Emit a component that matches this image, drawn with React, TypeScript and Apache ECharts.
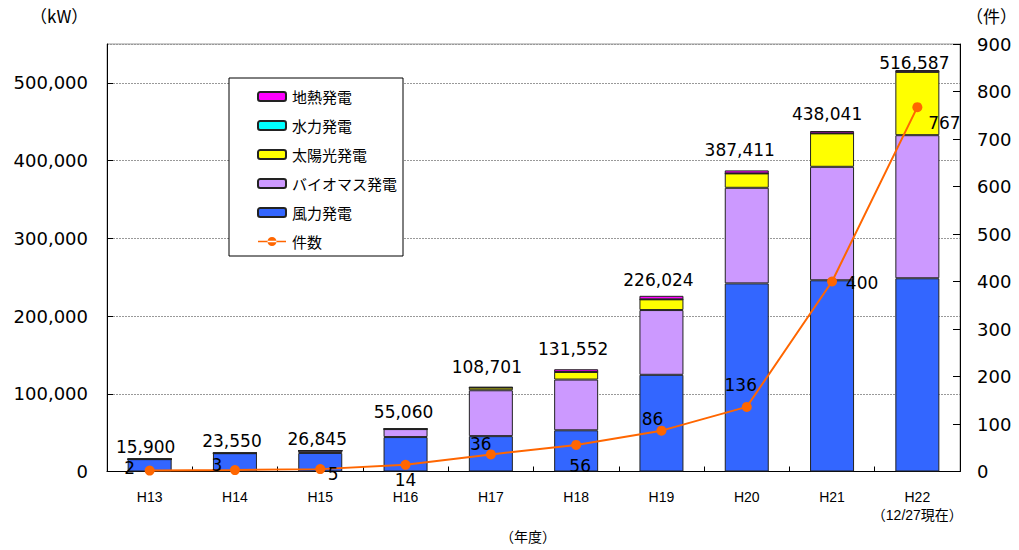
import React, { useEffect, useRef } from "react";
import * as echarts from "echarts";

const categories = ["H13", "H14", "H15", "H16", "H17", "H18", "H19", "H20", "H21", "H22"];
const wind = [15900, 23550, 23845, 44300, 45500, 53000, 124400, 242000, 246000, 248600];
const biomass = [0, 0, 3000, 10260, 59000, 65300, 83300, 123000, 146000, 184100];
const solar = [0, 0, 0, 0, 3500, 9800, 13800, 18500, 43000, 81500];
const hydro = [0, 0, 0, 0, 0, 0, 0, 0, 0, 0];
const geothermal = [0, 0, 0, 500, 701, 3452, 4524, 3911, 3041, 2387];
const counts = [2, 3, 5, 14, 36, 56, 86, 136, 400, 767];
const leftTicks = [0, 100000, 200000, 300000, 400000, 500000];

// label placement styles (pixel offsets), not data
const totalLabelOffsets: [number, number][] = [
  [-4, 0], [-3, 0], [-3, 0], [-2, -5], [-4, -8], [-3, -9], [-3, -4], [-7, -9], [-5, -6], [-3, 5],
];
const countLabelOffsets: [number, number][] = [
  [-20, -3], [-18, -5], [13, 5], [0, 15], [-10, -10], [4, 21], [-9, -12], [-6, -22], [30, 1], [27, 16],
];

const NUM_FONT = "'DejaVu Sans', 'Noto Sans CJK JP', sans-serif";
const CJK_FONT = "'Noto Sans CJK JP', 'DejaVu Sans', sans-serif";
const LINE_ICON = "path://M0,4.2L28,4.2L28,5.8L0,5.8Z M9.5,5A4.5,4.5 0 1,0 18.5,5A4.5,4.5 0 1,0 9.5,5Z";

export default function App() {
  const ref = useRef<HTMLDivElement>(null);
  useEffect(() => {
    const chart = echarts.init(ref.current!, undefined, { renderer: "svg" });
    const totals = categories.map(
      (_, i) => wind[i] + biomass[i] + solar[i] + hydro[i] + geothermal[i]
    );
    const border = { borderColor: "#222", borderWidth: 1 };
    const barBase = { type: "bar", stack: "total", barWidth: 44, yAxisIndex: 0 };
    chart.setOption({
      animation: false,
      backgroundColor: "#fff",
      textStyle: { fontFamily: NUM_FONT, color: "#000" },
      grid: {
        left: 107,
        right: 59,
        top: 44,
        bottom: 78.5,
        show: true,
        borderColor: "#999",
        borderWidth: 1,
        outerBoundsMode: "none",
      },
      legend: {
        orient: "vertical",
        left: 229,
        top: 78,
        data: [
          "地熱発電",
          "水力発電",
          "太陽光発電",
          "バイオマス発電",
          "風力発電",
          { name: "件数", icon: LINE_ICON, itemStyle: { color: "#FF6600", borderWidth: 0 } },
        ],
        backgroundColor: "#fff",
        borderColor: "#000",
        borderWidth: 1,
        padding: [11, 6, 7, 28],
        itemWidth: 28,
        itemHeight: 9,
        itemGap: 14,
        textStyle: { fontFamily: CJK_FONT, fontSize: 15, color: "#000", padding: [0, 0, 0, 1] },
      },
      xAxis: {
        type: "category",
        data: categories,
        axisLine: { lineStyle: { color: "#000", width: 1 } },
        axisTick: { show: true, inside: true, length: 5, lineStyle: { color: "#000" } },
        axisLabel: {
          interval: 0,
          fontFamily: "'Liberation Sans', 'Noto Sans CJK JP', sans-serif",
          fontSize: 14,
          color: "#000",
          margin: 16,
          lineHeight: 18,
          formatter: (v: string) => (v === "H22" ? "H22\n（12/27現在）" : v),
        },
      },
      yAxis: [
        {
          type: "value",
          min: leftTicks[0],
          max: 550000,
          interval: 100000,
          axisLine: { show: true, lineStyle: { color: "#000" } },
          axisTick: { show: true, inside: true, length: 6, lineStyle: { color: "#000" } },
          axisLabel: {
            fontFamily: NUM_FONT,
            fontSize: 18,
            color: "#000",
            margin: 19,
            showMaxLabel: false,
            formatter: (v: number) =>
              leftTicks.includes(v) ? v.toLocaleString("en-US") : "",
          },
          splitLine: { show: true, lineStyle: { color: "#999", type: [2, 1] } },
        },
        {
          type: "value",
          min: 0,
          max: 900,
          interval: 100,
          position: "right",
          axisLine: { show: true, lineStyle: { color: "#000" } },
          axisTick: { show: true, inside: true, length: 7, lineStyle: { color: "#000" } },
          axisLabel: { fontFamily: NUM_FONT, fontSize: 18, color: "#000", margin: 17 },
          splitLine: { show: false },
        },
      ],
      series: [
        { ...barBase, name: "風力発電", data: wind, itemStyle: { color: "#3366FF", ...border } },
        { ...barBase, name: "バイオマス発電", data: biomass, itemStyle: { color: "#CC99FF", ...border } },
        { ...barBase, name: "太陽光発電", data: solar, itemStyle: { color: "#FFFF00", ...border } },
        { ...barBase, name: "水力発電", data: hydro, itemStyle: { color: "#00FFFF", ...border } },
        {
          ...barBase,
          name: "地熱発電",
          data: geothermal.map((v, i) => ({
            value: v,
            label: { offset: totalLabelOffsets[i] },
          })),
          itemStyle: { color: "#FF00FF", ...border },
          label: {
            show: true,
            position: "top",
            distance: 3,
            fontFamily: NUM_FONT,
            fontSize: 17,
            color: "#000",
            formatter: (p: any) => totals[p.dataIndex].toLocaleString("en-US"),
          },
        },
        {
          type: "line",
          name: "件数",
          yAxisIndex: 1,
          z: 10,
          data: counts.map((v, i) => ({
            value: v,
            label: { offset: countLabelOffsets[i] },
          })),
          symbol: "circle",
          symbolSize: 10,
          lineStyle: { color: "#FF6600", width: 2 },
          itemStyle: { color: "#FF6600" },
          label: {
            show: true,
            position: "inside",
            fontFamily: NUM_FONT,
            fontSize: 17,
            color: "#000",
          },
        },
      ],
      graphic: [
        {
          type: "text",
          left: 30,
          top: 7,
          style: { text: "（kW）", font: `17px ${CJK_FONT}`, fill: "#000" },
        },
        {
          type: "text",
          left: 966,
          top: 7,
          style: { text: "（件）", font: `17px ${CJK_FONT}`, fill: "#000" },
        },
        {
          type: "text",
          left: 500,
          top: 529,
          style: { text: "（年度）", font: `14px ${CJK_FONT}`, fill: "#000" },
        },
      ],
    });
    return () => chart.dispose();
  }, []);
  return (
    <div
      ref={ref}
      style={{ position: "fixed", left: 0, top: 0, width: 1019, height: 550 }}
    />
  );
}
